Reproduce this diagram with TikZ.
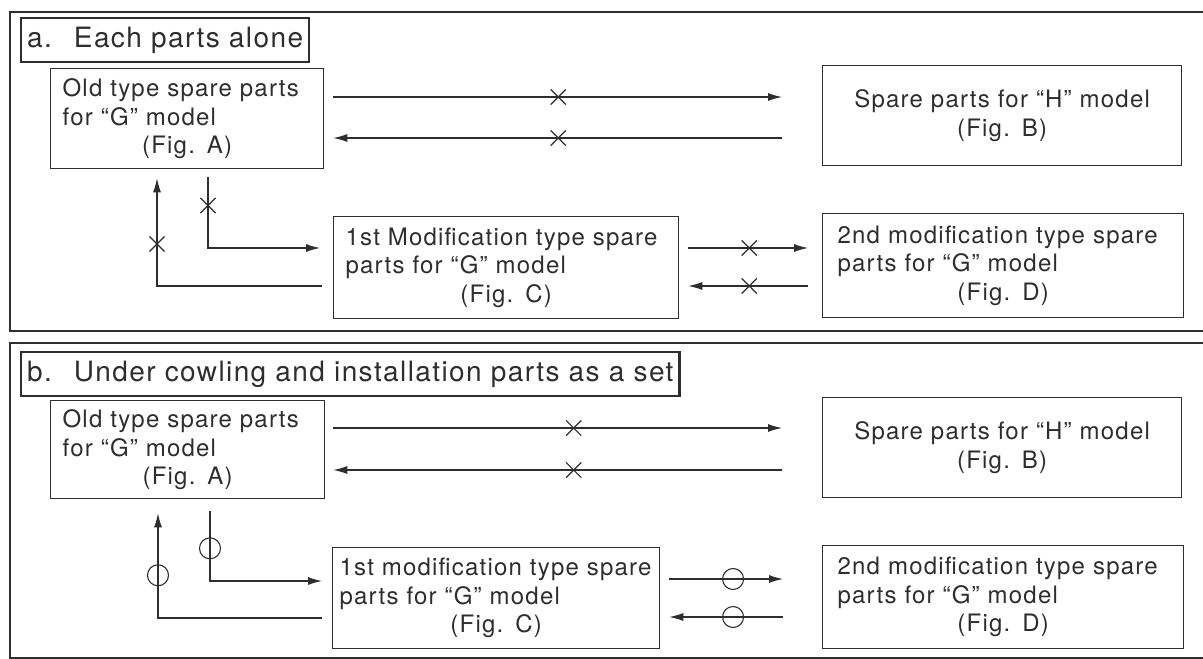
\documentclass[tikz,border=0pt]{standalone}
\usepackage{fontspec}
\usepackage{tikz}
\usetikzlibrary{arrows.meta,shapes.misc}
\setmainfont{TeX Gyre Heros}
\newfontfamily\diagfont[LetterSpace=5]{TeX Gyre Heros}
\newcommand\partfont{\diagfont\fontsize{24}{28.5}\selectfont}
\newcommand\headfont{\diagfont\fontsize{28}{32}\selectfont}
\newcommand\figline[1]{\hspace*{0pt plus 1filll}#1\hspace*{0pt plus 1filll}}
\definecolor{ink}{gray}{0.18}

\begin{document}
\begin{tikzpicture}[x=1pt, y=-1pt,
		panelframe/.style={draw=ink, line width=2pt},
		titlebox/.style={draw=ink, line width=2.4pt, anchor=north west, inner xsep=6pt, inner ysep=0pt, minimum height=44pt, font=\headfont, text=ink},
		partbox/.style={draw=ink, line width=1.3pt, anchor=north west, inner xsep=12pt, inner ysep=0pt, align=left, font=\partfont, text=ink},
		link/.style={draw=ink, line width=1.1pt, -{Latex[length=14pt,width=8pt]}},
		xmark/.style={draw=ink, -, shorten <=0pt, shorten >=0pt, line width=1.2pt, cross out, minimum size=14pt, inner sep=0pt},
		omark/.style={draw=ink, -, shorten <=0pt, shorten >=0pt, line width=1.1pt, circle, minimum size=21pt, inner sep=0pt}]

		\useasboundingbox (0,0) rectangle (1203,659);
		\clip (0,0) rectangle (1203,659);
		\fill[white] (0,0) rectangle (1203,659);

		% a. parts one by one
		\begin{scope}
			\draw[panelframe] (10,12) rectangle (1220,331);
			\node[titlebox] (head) at (20,17) {a.\hspace{22pt}Each parts alone};

			\node[partbox, text width=249pt, minimum height=100pt] (old) at (50,68)
				{Old type spare parts\\for “G” model\\\figline{(Fig. A)}};
			\node[partbox, align=center, text width=335pt, minimum height=100pt] (newH) at (822,65)
				{Spare parts for “H” model\\(Fig. B)};
			\node[partbox, text width=321pt, minimum height=102pt] (mod1) at (333,216)
				{\mbox{1st Modification type spare}\\parts for “G” model\\\figline{(Fig. C)}};
			\node[partbox, inner xsep=15pt, text width=331pt, minimum height=104pt] (mod2) at (822,213)
				{\mbox{2nd modification type spare}\\parts for “G” model\\\figline{(Fig. D)}};

			\draw[link, shorten <=9pt, shorten >=40pt] (old.east |- 0,97) -- node[xmark, pos=0.47] {} (newH.west |- 0,97);
			\draw[link, shorten <=40pt, shorten >=9pt] (newH.west |- 0,138) -- node[xmark, pos=0.53] {} (old.east |- 0,138);
			\draw[link, shorten <=9pt, shorten >=14pt] (mod1.east |- 0,248) -- node[xmark, pos=0.49] {} (mod2.west |- 0,248);
			\draw[link, shorten <=14pt, shorten >=9pt] (mod2.west |- 0,286) -- node[xmark, pos=0.51] {} (mod1.east |- 0,286);
			\draw[link, shorten <=8pt, shorten >=13pt] (old.south -| 208,0) |- node[xmark, pos=0.23] {} (mod1.west |- 0,248);
			\draw[link, shorten <=11pt, shorten >=9pt] (mod1.west |- 0,286) -| node[xmark, pos=0.68] {} (old.south -| 157,0);
		\end{scope}

		% b. same chart, parts taken as a set
		\begin{scope}[yshift=-332pt]
			\draw[panelframe] (10,11) rectangle (1220,326);
			\node[titlebox] (head) at (20,19) {b.\hspace{22pt}Under cowling and installation parts as a set};

			\node[partbox, text width=250pt, minimum height=98pt] (old) at (50,68)
				{Old type spare parts\\for “G” model\\\figline{(Fig. A)}};
			\node[partbox, align=center, text width=335pt, minimum height=100pt] (newH) at (822,65)
				{Spare parts for “H” model\\(Fig. B)};
			\node[partbox, inner xsep=7pt, text width=313pt, minimum height=101pt] (mod1) at (332,215)
				{\mbox{1st modification type spare}\\parts for “G” model\\\figline{(Fig. C)}};
			\node[partbox, inner xsep=15pt, text width=331pt, minimum height=103pt] (mod2) at (822,213)
				{\mbox{2nd modification type spare}\\parts for “G” model\\\figline{(Fig. D)}};

			\draw[link, shorten <=8pt, shorten >=40pt] (old.east |- 0,96) -- node[xmark, pos=0.50] {} (newH.west |- 0,96);
			\draw[link, shorten <=40pt, shorten >=8pt] (newH.west |- 0,138) -- node[xmark, pos=0.50] {} (old.east |- 0,138);
			\draw[link, shorten <=9pt, shorten >=39pt] (mod1.east |- 0,247) -- node[omark, pos=0.45] {} (mod2.west |- 0,247);
			\draw[link, shorten <=39pt, shorten >=9pt] (mod2.west |- 0,285) -- node[omark, pos=0.55] {} (mod1.east |- 0,285);
			\draw[link, shorten <=12pt, shorten >=10pt] (old.south -| 210,0) |- node[omark, pos=0.30] {} (mod1.west |- 0,249);
			\draw[link, shorten <=10pt, shorten >=14pt] (mod1.west |- 0,286) -| node[omark, pos=0.68] {} (old.south -| 158,0);
		\end{scope}

	\end{tikzpicture}
\end{document}
